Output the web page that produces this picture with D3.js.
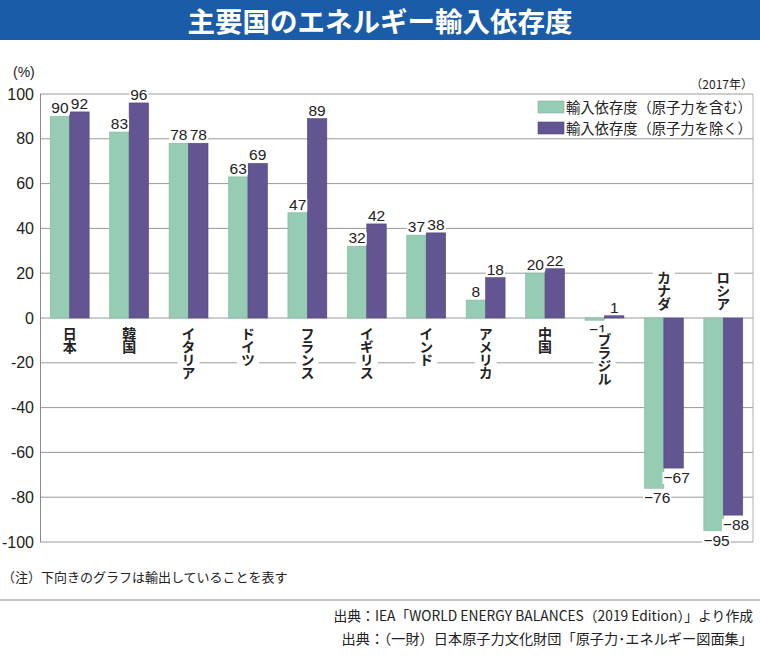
<!DOCTYPE html>
<html><head><meta charset="utf-8">
<script src="https://cdn.jsdelivr.net/npm/d3@7"></script>
<style>
html,body{margin:0;padding:0;background:#fff;}
svg{display:block;font-family:"Liberation Sans","Noto Sans CJK JP",sans-serif;}
</style></head>
<body><svg id="c" width="760" height="661"></svg>
<script>
const categories = ["日本","韓国","イタリア","ドイツ","フランス","イギリス","インド","アメリカ","中国","ブラジル","カナダ","ロシア"];
const withNuclear = [90,83,78,63,47,32,37,8,20,-1,-76,-95];
const withoutNuclear = [92,96,78,69,89,42,38,18,22,1,-67,-88];
const seriesNames = ["輸入依存度（原子力を含む）","輸入依存度（原子力を除く）"];
const seriesColors = ["#96cbb4","#635592"];
const yTicks = [100,80,60,40,20,0,-20,-40,-60,-80,-100];

const svg = d3.select("#c");
const jp = '"Noto Sans CJK JP",sans-serif';
const num = '"Liberation Sans",Arial,sans-serif';

// title bar
svg.append("rect").attr("x",0).attr("y",0).attr("width",760).attr("height",40).attr("fill","#1b5ca8");
svg.append("text").attr("x",380).attr("y",32).attr("text-anchor","middle")
  .attr("fill","#fff").style("font-family",jp).style("font-weight","700").style("font-size","27.5px")
  .text("主要国のエネルギー輸入依存度");

const pLeft = 40, pRight = 753, pTop = 94, pBottom = 542;
const x = d3.scaleBand().domain(categories).range([pLeft,pRight]).paddingInner(0.345).paddingOuter(0.1725);
const sub = d3.scaleBand().domain([0,1]).range([0,x.bandwidth()]);
const y = d3.scaleLinear().domain([-100,100]).range([pBottom,pTop]);

// gridlines
const g = svg.append("g");
g.selectAll("line.grid").data(yTicks).join("line")
  .attr("x1",pLeft).attr("x2",pRight).attr("y1",d=>y(d)).attr("y2",d=>y(d))
  .attr("stroke","#9a9a9a").attr("stroke-width",1);
// axis line and right border
svg.append("line").attr("x1",pLeft+0.5).attr("x2",pLeft+0.5).attr("y1",pTop).attr("y2",pBottom).attr("stroke","#8a8a8a");
svg.append("line").attr("x1",pRight).attr("x2",pRight).attr("y1",pTop).attr("y2",pBottom).attr("stroke","#b0b0b0");

// y labels
const yAxis = d3.axisLeft(y).tickValues(yTicks).tickSize(0).tickPadding(6).tickFormat(d=>String(d));
const ya = svg.append("g").attr("transform",`translate(${pLeft},0)`).call(yAxis);
ya.select(".domain").remove();
ya.selectAll("text").style("font-family",num).style("font-size","16px").attr("fill","#222");

svg.append("text").attr("x",13).attr("y",77).style("font-family",num).style("font-size","14px").attr("fill","#222").text("(%)");
svg.append("text").attr("x",753).attr("y",89).attr("text-anchor","end").style("font-family",jp).style("font-size","12px").attr("fill","#222").text("（2017年）");

// legend
svg.append("rect").attr("x",534).attr("y",pTop+1).attr("width",pRight-534-1).attr("height",y(80)-pTop-2).attr("fill","#fff");
seriesNames.forEach((n,i)=>{
  const ly = 99 + i*21;
  svg.append("rect").attr("x",538).attr("y",ly+2).attr("width",26).attr("height",12).attr("fill",seriesColors[i]).attr("stroke",i?"#544780":"#7fb59c").attr("stroke-width",0.6);
  svg.append("text").attr("x",566).attr("y",ly+13.5).style("font-family",jp).style("font-size","14.3px").attr("fill","#222").text(n);
});

// bars
const data = categories.map((c,i)=>({c, v:[withNuclear[i],withoutNuclear[i]]}));
const bars = svg.append("g");
data.forEach(d=>{
  d.v.forEach((v,k)=>{
    const bx = x(d.c)+sub(k), bw = sub.bandwidth();
    bars.append("rect").attr("x",bx).attr("width",bw)
      .attr("y",Math.min(y(v),y(0))).attr("height",Math.abs(y(v)-y(0)))
      .attr("fill",seriesColors[k]).attr("stroke",k?"#544780":"#82b9a0").attr("stroke-width",0.6);
  });
});

// value labels
const lab = svg.append("g");
function label(txt,cx,cy){
  const t = lab.append("text").attr("x",cx).attr("y",cy).attr("text-anchor","middle")
    .style("font-family",num).style("font-size","15.5px").attr("fill","#222").text(txt);
  const b = t.node().getBBox();
  lab.insert("rect","text").attr("x",b.x-1).attr("y",b.y+3).attr("width",b.width+2).attr("height",b.height-5).attr("fill","#fff");
  lab.node().appendChild(t.node());
}
data.forEach(d=>{
  d.v.forEach((v,k)=>{
    const cx = x(d.c)+sub(k)+sub.bandwidth()/2;
    if (v>=0) label(String(v), cx, y(v)-3);
    else label("−"+Math.abs(v), cx+3, y(v)+15);
  });
});

// category labels (vertical)
const cl = svg.append("g");
data.forEach(d=>{
  const cx = x(d.c)+x.bandwidth()/2;
  const minV = Math.min(...d.v);
  let yy, anchor;
  if (minV < -10) { yy = y(0) - 8; anchor = "end"; }
  else if (minV < 0) { yy = y(0) + 15; anchor = "start"; }
  else { yy = y(0) + 9; anchor = "start"; }
  const t = cl.append("text").attr("x",cx).attr("y",yy).attr("text-anchor",anchor)
    .style("writing-mode","vertical-rl").style("letter-spacing","-1px")
    .style("font-family",jp).style("font-weight","700").style("font-size","14px").attr("fill","#222").text(d.c);
  const b = t.node().getBBox();
  cl.insert("rect","text").attr("x",b.x-1).attr("y",b.y).attr("width",b.width+2).attr("height",b.height).attr("fill","#fff");
  cl.node().appendChild(t.node());
});

// note and sources
svg.append("text").attr("x",2).attr("y",582).style("font-family",jp).style("font-size","13px").attr("fill","#222").text("（注）下向きのグラフは輸出していることを表す");
svg.append("line").attr("x1",0).attr("x2",760).attr("y1",600).attr("y2",600).attr("stroke","#8a8a8a").attr("stroke-width",1.2);
svg.append("text").attr("x",753).attr("y",621).attr("text-anchor","end").style("font-family",jp).style("font-size","13.8px").attr("fill","#222").text("出典：IEA「WORLD ENERGY BALANCES（2019 Edition）」より作成");
svg.append("text").attr("x",753).attr("y",644).attr("text-anchor","end").style("font-family",jp).style("font-size","14.2px").attr("fill","#222").text("出典：（一財）日本原子力文化財団「原子力･エネルギー図面集」");
</script></body></html>
